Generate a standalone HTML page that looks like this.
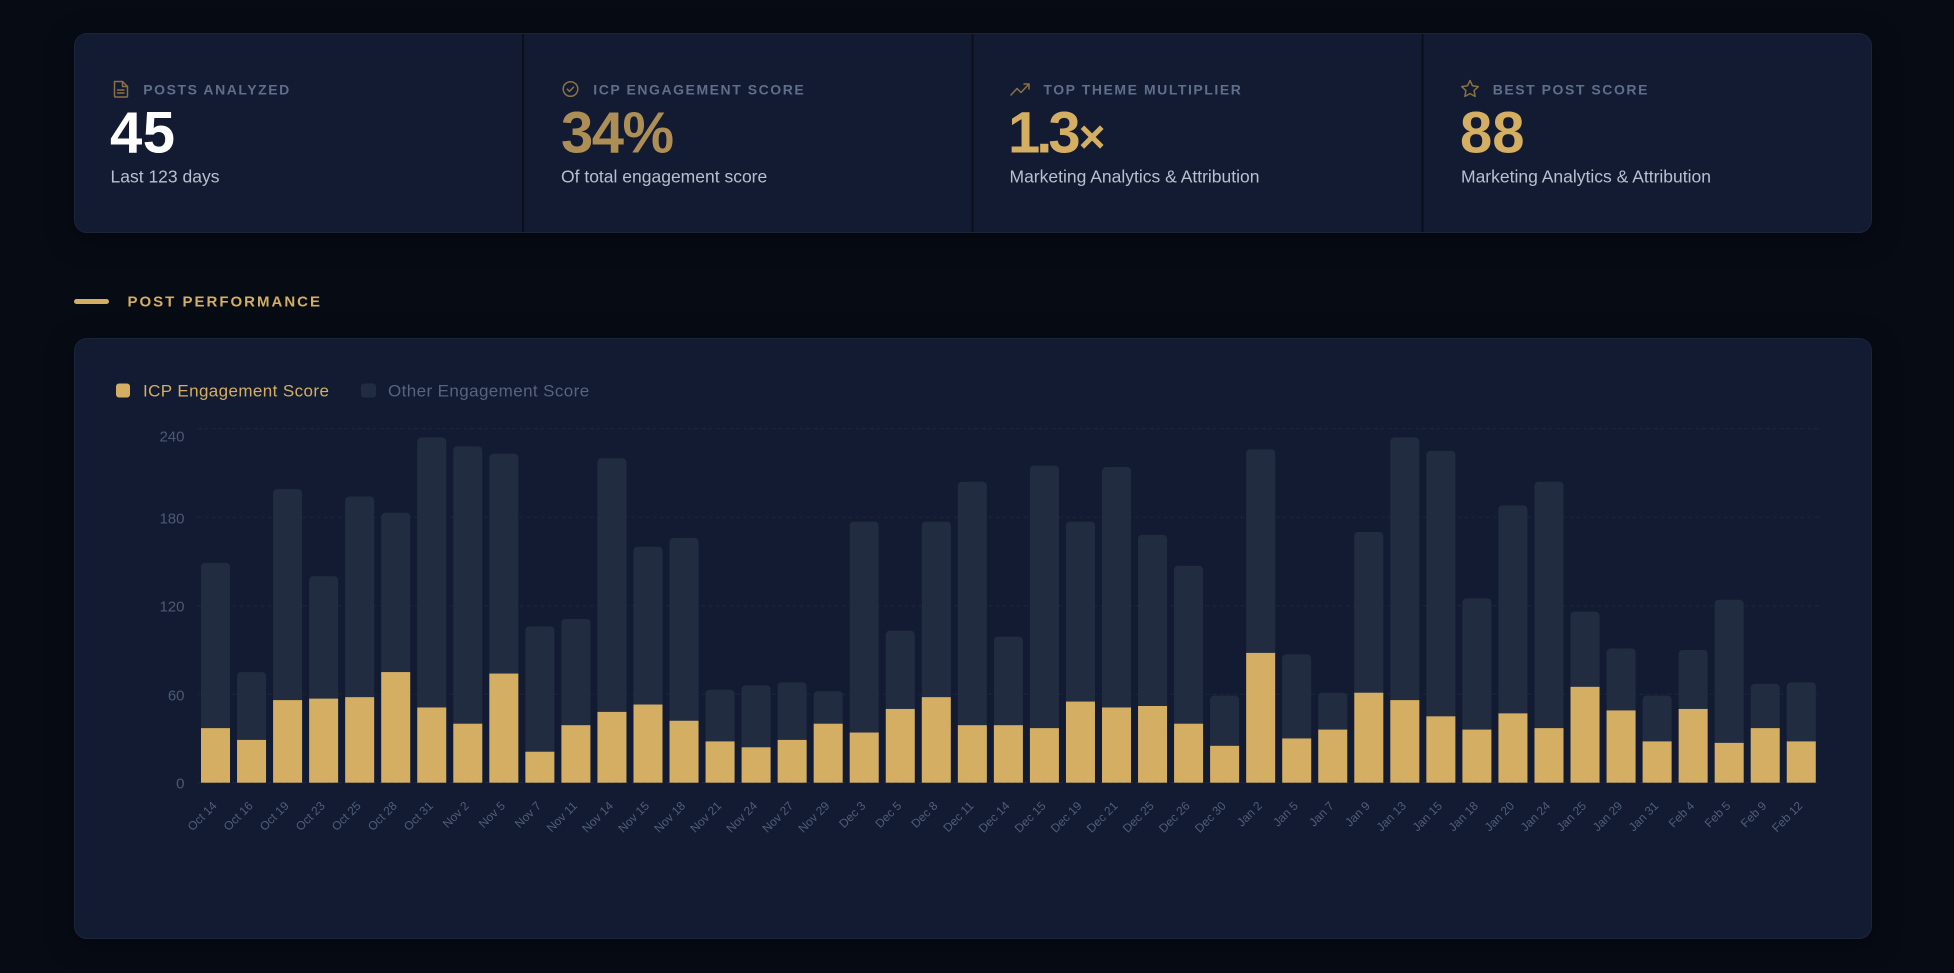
<!DOCTYPE html>
<html><head><meta charset="utf-8"><style>
html,body{margin:0;padding:0}
body{background:#070b14;width:1954px;height:973px;overflow:hidden;position:relative;font-family:"Liberation Sans",sans-serif}
.card{position:absolute;box-sizing:border-box;background:#121b32;border:1px solid #1b2539;border-radius:13px;box-shadow:0 6px 28px rgba(0,0,0,0.35)}
svg{position:absolute;left:0;top:0}
</style></head><body>
<div class="card" style="left:74px;top:33px;width:1798px;height:200px"></div>
<div class="card" style="left:74px;top:338px;width:1798px;height:601px"></div>
<svg width="1954" height="973" viewBox="0 0 1954 973" font-family="Liberation Sans, sans-serif">
<!-- stat dividers -->
<rect x="522" y="34" width="2" height="198" fill="#0a0f1b"/>
<rect x="971.5" y="34" width="2" height="198" fill="#0a0f1b"/>
<rect x="1421.5" y="34" width="2" height="198" fill="#0a0f1b"/>

<!-- icons -->
<g fill="none" stroke="#8a7143" stroke-width="1.5" stroke-linecap="round" stroke-linejoin="round">
  <path d="M114.5 81.5 h8 l5 5 v9.5 a1 1 0 0 1 -1 1 h-11 a1 1 0 0 1 -1 -1 v-13.5 a1 1 0 0 1 1 -1 z"/>
  <path d="M122.5 81.5 v5 h5"/>
  <line x1="117.5" y1="90" x2="124" y2="90"/>
  <line x1="117.5" y1="93" x2="124" y2="93"/>
  <circle cx="570.5" cy="89" r="7.3"/>
  <path d="M567.3 89.2 l2.2 2.2 l4 -4.2"/>
  <path d="M1011 95 l6 -6.5 l4 4 l8 -8.5"/>
  <path d="M1024 84 h5 v5"/>
  <path d="M1470 80.5 l2.5 5.3 l5.8 0.8 l-4.2 4 l1 5.8 l-5.1 -2.8 l-5.1 2.8 l1 -5.8 l-4.2 -4 l5.8 -0.8 z"/>
</g>

<!-- stat labels -->
<g font-size="14" font-weight="bold" fill="#5f6e89" letter-spacing="1.55">
  <text x="143.3" y="94.3">POSTS ANALYZED</text>
  <text x="593.3" y="94.3">ICP ENGAGEMENT SCORE</text>
  <text x="1043.4" y="94.3">TOP THEME MULTIPLIER</text>
  <text x="1492.7" y="94.3">BEST POST SCORE</text>
</g>
<g font-size="58" font-weight="bold">
  <text x="110" y="152.3" fill="#ffffff" letter-spacing="0.5">45</text>
  <text x="561" y="152.3" fill="#ad8e55" letter-spacing="-1.5">34%</text>
  <text x="1008" y="152.3" fill="#d4ae62" letter-spacing="-4">1.3<tspan font-size="46" letter-spacing="0" dx="2">×</tspan></text>
  <text x="1460" y="152.3" fill="#d4ae62">88</text>
</g>
<g font-size="17.5" fill="#b7c0cf">
  <text x="110.5" y="182.5">Last 123 days</text>
  <text x="561" y="182.5">Of total engagement score</text>
  <text x="1009.5" y="182.5">Marketing Analytics &amp; Attribution</text>
  <text x="1461" y="182.5">Marketing Analytics &amp; Attribution</text>
</g>

<!-- section header -->
<rect x="74" y="299" width="35" height="5" rx="2.5" fill="#d4ae62"/>
<text x="127.5" y="306.7" font-size="15" font-weight="bold" fill="#d4ae62" letter-spacing="2">POST PERFORMANCE</text>

<!-- legend -->
<rect x="116" y="383.5" width="14" height="14" rx="3" fill="#d4ae62"/>
<text x="143" y="396.5" font-size="17" letter-spacing="0.4" fill="#d4ae62">ICP Engagement Score</text>
<rect x="361" y="383.5" width="15" height="14" rx="3" fill="#222c41"/>
<text x="388" y="396.5" font-size="17" letter-spacing="0.4" fill="#56647d">Other Engagement Score</text>

<!-- grid -->
<g stroke="#1c263b" stroke-width="1" stroke-dasharray="4 3">
  <line x1="197.5" x2="1819" y1="428.7" y2="428.7"/>
  <line x1="197.5" x2="1819" y1="517.2" y2="517.2"/>
  <line x1="197.5" x2="1819" y1="605.7" y2="605.7"/>
  <line x1="197.5" x2="1819" y1="694.2" y2="694.2"/>
  <line x1="197.5" x2="1819" y1="782.7" y2="782.7"/>
</g>
<g font-size="15" fill="#4c5a72" text-anchor="end">
  <text x="184.5" y="441.7">240</text>
  <text x="184.5" y="523.5">180</text>
  <text x="184.5" y="611.7">120</text>
  <text x="184.5" y="700.5">60</text>
  <text x="184.5" y="788.5">0</text>
</g>

<!-- bars -->
<g transform="translate(201,782.7) scale(36.04,-1.475)">
 <g fill="#222c41">
  <rect x="0" y="0" width="0.805" height="149" rx="0.111" ry="2.71"/>
  <rect x="1" y="0" width="0.805" height="75" rx="0.111" ry="2.71"/>
  <rect x="2" y="0" width="0.805" height="199" rx="0.111" ry="2.71"/>
  <rect x="3" y="0" width="0.805" height="140" rx="0.111" ry="2.71"/>
  <rect x="4" y="0" width="0.805" height="194" rx="0.111" ry="2.71"/>
  <rect x="5" y="0" width="0.805" height="183" rx="0.111" ry="2.71"/>
  <rect x="6" y="0" width="0.805" height="234" rx="0.111" ry="2.71"/>
  <rect x="7" y="0" width="0.805" height="228" rx="0.111" ry="2.71"/>
  <rect x="8" y="0" width="0.805" height="223" rx="0.111" ry="2.71"/>
  <rect x="9" y="0" width="0.805" height="106" rx="0.111" ry="2.71"/>
  <rect x="10" y="0" width="0.805" height="111" rx="0.111" ry="2.71"/>
  <rect x="11" y="0" width="0.805" height="220" rx="0.111" ry="2.71"/>
  <rect x="12" y="0" width="0.805" height="160" rx="0.111" ry="2.71"/>
  <rect x="13" y="0" width="0.805" height="166" rx="0.111" ry="2.71"/>
  <rect x="14" y="0" width="0.805" height="63" rx="0.111" ry="2.71"/>
  <rect x="15" y="0" width="0.805" height="66" rx="0.111" ry="2.71"/>
  <rect x="16" y="0" width="0.805" height="68" rx="0.111" ry="2.71"/>
  <rect x="17" y="0" width="0.805" height="62" rx="0.111" ry="2.71"/>
  <rect x="18" y="0" width="0.805" height="177" rx="0.111" ry="2.71"/>
  <rect x="19" y="0" width="0.805" height="103" rx="0.111" ry="2.71"/>
  <rect x="20" y="0" width="0.805" height="177" rx="0.111" ry="2.71"/>
  <rect x="21" y="0" width="0.805" height="204" rx="0.111" ry="2.71"/>
  <rect x="22" y="0" width="0.805" height="99" rx="0.111" ry="2.71"/>
  <rect x="23" y="0" width="0.805" height="215" rx="0.111" ry="2.71"/>
  <rect x="24" y="0" width="0.805" height="177" rx="0.111" ry="2.71"/>
  <rect x="25" y="0" width="0.805" height="214" rx="0.111" ry="2.71"/>
  <rect x="26" y="0" width="0.805" height="168" rx="0.111" ry="2.71"/>
  <rect x="27" y="0" width="0.805" height="147" rx="0.111" ry="2.71"/>
  <rect x="28" y="0" width="0.805" height="59" rx="0.111" ry="2.71"/>
  <rect x="29" y="0" width="0.805" height="226" rx="0.111" ry="2.71"/>
  <rect x="30" y="0" width="0.805" height="87" rx="0.111" ry="2.71"/>
  <rect x="31" y="0" width="0.805" height="61" rx="0.111" ry="2.71"/>
  <rect x="32" y="0" width="0.805" height="170" rx="0.111" ry="2.71"/>
  <rect x="33" y="0" width="0.805" height="234" rx="0.111" ry="2.71"/>
  <rect x="34" y="0" width="0.805" height="225" rx="0.111" ry="2.71"/>
  <rect x="35" y="0" width="0.805" height="125" rx="0.111" ry="2.71"/>
  <rect x="36" y="0" width="0.805" height="188" rx="0.111" ry="2.71"/>
  <rect x="37" y="0" width="0.805" height="204" rx="0.111" ry="2.71"/>
  <rect x="38" y="0" width="0.805" height="116" rx="0.111" ry="2.71"/>
  <rect x="39" y="0" width="0.805" height="91" rx="0.111" ry="2.71"/>
  <rect x="40" y="0" width="0.805" height="59" rx="0.111" ry="2.71"/>
  <rect x="41" y="0" width="0.805" height="90" rx="0.111" ry="2.71"/>
  <rect x="42" y="0" width="0.805" height="124" rx="0.111" ry="2.71"/>
  <rect x="43" y="0" width="0.805" height="67" rx="0.111" ry="2.71"/>
  <rect x="44" y="0" width="0.805" height="68" rx="0.111" ry="2.71"/>
 </g>
 <g fill="#d4ae62">
  <rect x="0" y="0" width="0.805" height="37"/>
  <rect x="1" y="0" width="0.805" height="29"/>
  <rect x="2" y="0" width="0.805" height="56"/>
  <rect x="3" y="0" width="0.805" height="57"/>
  <rect x="4" y="0" width="0.805" height="58"/>
  <rect x="5" y="0" width="0.805" height="75"/>
  <rect x="6" y="0" width="0.805" height="51"/>
  <rect x="7" y="0" width="0.805" height="40"/>
  <rect x="8" y="0" width="0.805" height="74"/>
  <rect x="9" y="0" width="0.805" height="21"/>
  <rect x="10" y="0" width="0.805" height="39"/>
  <rect x="11" y="0" width="0.805" height="48"/>
  <rect x="12" y="0" width="0.805" height="53"/>
  <rect x="13" y="0" width="0.805" height="42"/>
  <rect x="14" y="0" width="0.805" height="28"/>
  <rect x="15" y="0" width="0.805" height="24"/>
  <rect x="16" y="0" width="0.805" height="29"/>
  <rect x="17" y="0" width="0.805" height="40"/>
  <rect x="18" y="0" width="0.805" height="34"/>
  <rect x="19" y="0" width="0.805" height="50"/>
  <rect x="20" y="0" width="0.805" height="58"/>
  <rect x="21" y="0" width="0.805" height="39"/>
  <rect x="22" y="0" width="0.805" height="39"/>
  <rect x="23" y="0" width="0.805" height="37"/>
  <rect x="24" y="0" width="0.805" height="55"/>
  <rect x="25" y="0" width="0.805" height="51"/>
  <rect x="26" y="0" width="0.805" height="52"/>
  <rect x="27" y="0" width="0.805" height="40"/>
  <rect x="28" y="0" width="0.805" height="25"/>
  <rect x="29" y="0" width="0.805" height="88"/>
  <rect x="30" y="0" width="0.805" height="30"/>
  <rect x="31" y="0" width="0.805" height="36"/>
  <rect x="32" y="0" width="0.805" height="61"/>
  <rect x="33" y="0" width="0.805" height="56"/>
  <rect x="34" y="0" width="0.805" height="45"/>
  <rect x="35" y="0" width="0.805" height="36"/>
  <rect x="36" y="0" width="0.805" height="47"/>
  <rect x="37" y="0" width="0.805" height="37"/>
  <rect x="38" y="0" width="0.805" height="65"/>
  <rect x="39" y="0" width="0.805" height="49"/>
  <rect x="40" y="0" width="0.805" height="28"/>
  <rect x="41" y="0" width="0.805" height="50"/>
  <rect x="42" y="0" width="0.805" height="27"/>
  <rect x="43" y="0" width="0.805" height="37"/>
  <rect x="44" y="0" width="0.805" height="28"/>
 </g>
</g>

<!-- x labels -->
<g font-size="12" fill="#505e77" text-anchor="end">
  <text transform="translate(217.5,806.5) rotate(-45)">Oct 14</text>
  <text transform="translate(253.54,806.5) rotate(-45)">Oct 16</text>
  <text transform="translate(289.58,806.5) rotate(-45)">Oct 19</text>
  <text transform="translate(325.62,806.5) rotate(-45)">Oct 23</text>
  <text transform="translate(361.66,806.5) rotate(-45)">Oct 25</text>
  <text transform="translate(397.7,806.5) rotate(-45)">Oct 28</text>
  <text transform="translate(433.74,806.5) rotate(-45)">Oct 31</text>
  <text transform="translate(469.78,806.5) rotate(-45)">Nov 2</text>
  <text transform="translate(505.82,806.5) rotate(-45)">Nov 5</text>
  <text transform="translate(541.86,806.5) rotate(-45)">Nov 7</text>
  <text transform="translate(577.9,806.5) rotate(-45)">Nov 11</text>
  <text transform="translate(613.94,806.5) rotate(-45)">Nov 14</text>
  <text transform="translate(649.98,806.5) rotate(-45)">Nov 15</text>
  <text transform="translate(686.02,806.5) rotate(-45)">Nov 18</text>
  <text transform="translate(722.06,806.5) rotate(-45)">Nov 21</text>
  <text transform="translate(758.1,806.5) rotate(-45)">Nov 24</text>
  <text transform="translate(794.14,806.5) rotate(-45)">Nov 27</text>
  <text transform="translate(830.18,806.5) rotate(-45)">Nov 29</text>
  <text transform="translate(866.22,806.5) rotate(-45)">Dec 3</text>
  <text transform="translate(902.26,806.5) rotate(-45)">Dec 5</text>
  <text transform="translate(938.3,806.5) rotate(-45)">Dec 8</text>
  <text transform="translate(974.34,806.5) rotate(-45)">Dec 11</text>
  <text transform="translate(1010.38,806.5) rotate(-45)">Dec 14</text>
  <text transform="translate(1046.42,806.5) rotate(-45)">Dec 15</text>
  <text transform="translate(1082.46,806.5) rotate(-45)">Dec 19</text>
  <text transform="translate(1118.5,806.5) rotate(-45)">Dec 21</text>
  <text transform="translate(1154.54,806.5) rotate(-45)">Dec 25</text>
  <text transform="translate(1190.58,806.5) rotate(-45)">Dec 26</text>
  <text transform="translate(1226.62,806.5) rotate(-45)">Dec 30</text>
  <text transform="translate(1262.66,806.5) rotate(-45)">Jan 2</text>
  <text transform="translate(1298.7,806.5) rotate(-45)">Jan 5</text>
  <text transform="translate(1334.74,806.5) rotate(-45)">Jan 7</text>
  <text transform="translate(1370.78,806.5) rotate(-45)">Jan 9</text>
  <text transform="translate(1406.82,806.5) rotate(-45)">Jan 13</text>
  <text transform="translate(1442.86,806.5) rotate(-45)">Jan 15</text>
  <text transform="translate(1478.9,806.5) rotate(-45)">Jan 18</text>
  <text transform="translate(1514.94,806.5) rotate(-45)">Jan 20</text>
  <text transform="translate(1550.98,806.5) rotate(-45)">Jan 24</text>
  <text transform="translate(1587.02,806.5) rotate(-45)">Jan 25</text>
  <text transform="translate(1623.06,806.5) rotate(-45)">Jan 29</text>
  <text transform="translate(1659.1,806.5) rotate(-45)">Jan 31</text>
  <text transform="translate(1695.14,806.5) rotate(-45)">Feb 4</text>
  <text transform="translate(1731.18,806.5) rotate(-45)">Feb 5</text>
  <text transform="translate(1767.22,806.5) rotate(-45)">Feb 9</text>
  <text transform="translate(1803.26,806.5) rotate(-45)">Feb 12</text>
</g>
</svg>
</body></html>
